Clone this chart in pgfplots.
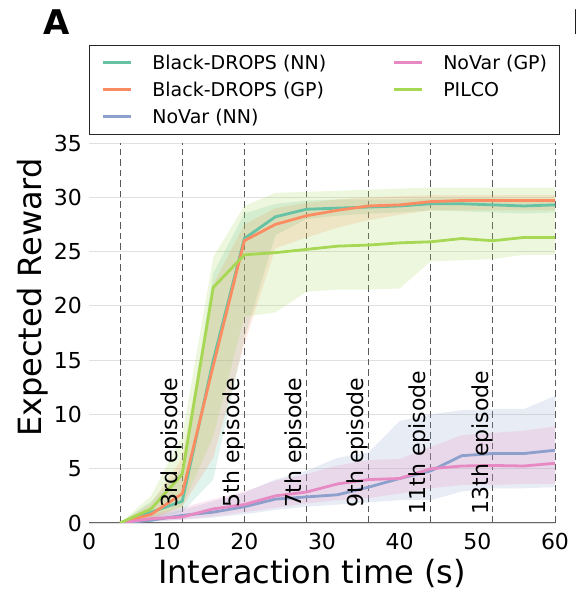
\documentclass[border=0pt]{standalone}
\usepackage{fontspec}
\setmainfont{DejaVu Sans}
\usepackage{pgfplots}
\usepackage{pgfplotstable}
\pgfplotsset{compat=1.18}
\usepgfplotslibrary{fillbetween}

\definecolor{cNN}{HTML}{66C2A5}
\definecolor{cGP}{HTML}{FC8D62}
\definecolor{cVN}{HTML}{8DA0CB}
\definecolor{cVG}{HTML}{E78AC3}
\definecolor{cPI}{HTML}{A6D854}

\pgfplotstableread{
x  nnm  nnl  nnh  gpm  gpl  gph  vnm  vnl  vnh  vgm  vgl  vgh  pim  pil  pih
4  0    0    0    0    0    0    0    0    0    0    0    0    0    0    0
8  1.0  0.3  2.0  0.8  0.3  1.8  0.25 0.1  0.6  0.4  0.2  0.8  1.3  0.5  2.5
12 2.0  1.0  5.0  2.7  1.5  6.0  0.7  0.3  1.2  0.55 0.3  1.4  4.5  1.5  8.0
16 15.0 4.0  23.0 14.5 6.0  22.0 1.0  0.5  2.0  1.3  0.6  2.2  21.7 8.0  24.5
20 26.2 17.0 28.5 26.0 16.5 27.5 1.5  0.8  2.8  1.7  1.0  2.9  24.7 19.0 29.2
24 28.2 26.5 29.4 27.5 25.3 29.0 2.2  1.2  4.0  2.5  1.4  3.9  24.9 19.4 30.4
28 28.9 28.0 29.7 28.3 26.3 29.5 2.4  1.5  4.8  2.85 1.8  4.5  25.2 21.3 30.5
32 29.0 28.3 29.8 28.8 27.2 29.8 2.6  1.7  6.0  3.6  2.1  5.3  25.5 21.5 30.6
36 29.1 28.5 29.8 29.2 27.9 30.0 3.3  1.9  6.5  4.0  2.3  5.8  25.6 21.5 30.7
40 29.2 28.6 29.8 29.3 28.4 30.1 4.1  2.1  9.4  4.1  2.7  5.9  25.8 21.6 30.8
44 29.4 28.8 29.9 29.6 28.8 30.2 4.8  2.1  10.0 5.0  3.2  7.0  25.9 24.1 30.9
48 29.4 28.7 29.9 29.7 28.8 30.2 6.2  2.9  10.4 5.25 3.5  8.1  26.2 24.2 30.9
52 29.3 28.6 29.9 29.7 28.8 30.2 6.4  3.2  10.5 5.3  3.5  8.3  26.0 24.3 30.9
56 29.2 28.5 29.8 29.7 28.8 30.2 6.4  3.2  10.5 5.25 3.6  8.5  26.3 24.7 30.9
60 29.3 28.6 29.8 29.7 28.8 30.2 6.7  3.3  11.7 5.5  3.6  8.9  26.3 24.7 30.9
}\data

\begin{document}
\begin{tikzpicture}
\begin{axis}[
  scale only axis, width=466pt, height=380pt,
  xmin=0, xmax=60, ymin=0, ymax=35,
  xtick={0,10,...,60}, ytick={0,5,...,35},
  /pgf/number format/assume math mode=true,
  ticklabel style={font=\fontsize{22}{26}\selectfont},
  xticklabel style={anchor=north, inner sep=0pt, yshift=-10pt},
  yticklabel style={anchor=east, inner sep=0pt, xshift=-7pt},
  axis x line*=bottom, axis y line*=left,
  y axis line style={draw=none},
  x axis line style={draw=black!60, line width=1pt},
  tick style={draw=none},
  ymajorgrids=true,
  major grid style={black!12, line width=0.8pt},
  extra x ticks={4,12,20,28,36,44,52,60},
  extra x tick labels={},
  extra x tick style={grid=major, major grid style={black!65, line width=0.8pt, dash pattern=on 6.5pt off 4pt}},
  xlabel={Interaction time (s)},
  ylabel={Expected Reward},
  label style={font=\fontsize{32}{36}\selectfont},
  xlabel style={at={(axis description cs:0.4785,-0.1579)}, anchor=base},
  ylabel style={at={(axis description cs:-0.1009,0.5934)}, anchor=base},
  legend columns=2,
  legend image code/.code={\draw[#1] (0pt,0pt) -- (28pt,0pt);},
  legend style={at={(axis description cs:0,1.2579)}, anchor=north west,
    draw=black!85, line width=0.8pt, inner xsep=12pt, inner ysep=9.5pt,
    font=\fontsize{19}{19}\selectfont,
    nodes={inner sep=0pt},
    row sep=11pt,
    /tikz/every odd column/.append style={column sep=20pt},
    /tikz/column 2/.style={column sep=66pt},
    cells={anchor=west}},
]
% bands
\addplot[draw=none, name path=nnh, forget plot] table[x=x,y=nnh]{\data};
\addplot[draw=none, name path=nnl, forget plot] table[x=x,y=nnl]{\data};
\addplot[cNN, fill opacity=0.2, draw=none, forget plot] fill between[of=nnh and nnl];
\addplot[draw=none, name path=gph, forget plot] table[x=x,y=gph]{\data};
\addplot[draw=none, name path=gpl, forget plot] table[x=x,y=gpl]{\data};
\addplot[cGP, fill opacity=0.2, draw=none, forget plot] fill between[of=gph and gpl];
\addplot[draw=none, name path=vnh, forget plot] table[x=x,y=vnh]{\data};
\addplot[draw=none, name path=vnl, forget plot] table[x=x,y=vnl]{\data};
\addplot[cVN, fill opacity=0.2, draw=none, forget plot] fill between[of=vnh and vnl];
\addplot[draw=none, name path=vgh, forget plot] table[x=x,y=vgh]{\data};
\addplot[draw=none, name path=vgl, forget plot] table[x=x,y=vgl]{\data};
\addplot[cVG, fill opacity=0.2, draw=none, forget plot] fill between[of=vgh and vgl];
\addplot[draw=none, name path=pih, forget plot] table[x=x,y=pih]{\data};
\addplot[draw=none, name path=pil, forget plot] table[x=x,y=pil]{\data};
\addplot[cPI, fill opacity=0.2, draw=none, forget plot] fill between[of=pih and pil];
% means
\addplot[cNN, line width=2.8pt, forget plot] table[x=x,y=nnm]{\data};
\addplot[cGP, line width=2.8pt, forget plot] table[x=x,y=gpm]{\data};
\addplot[cVN, line width=2.8pt, forget plot] table[x=x,y=vnm]{\data};
\addplot[cVG, line width=2.8pt, forget plot] table[x=x,y=vgm]{\data};
\addplot[cPI, line width=2.8pt, forget plot] table[x=x,y=pim]{\data};
% legend
\addlegendimage{cNN, line width=3pt}\addlegendentry{Black-DROPS (NN)}
\addlegendimage{cVG, line width=3pt}\addlegendentry{NoVar (GP)}
\addlegendimage{cGP, line width=3pt}\addlegendentry{Black-DROPS (GP)}
\addlegendimage{cPI, line width=3pt}\addlegendentry{PILCO}
\addlegendimage{cVN, line width=3pt}\addlegendentry{NoVar (NN)}
% episode labels
\begin{scope}[every node/.style={rotate=90, anchor=south, inner sep=0pt, font=\fontsize{22}{26}\selectfont}]
\node at (axis cs:12,7.4) {3rd episode};
\node at (axis cs:20,7.4) {5th episode};
\node at (axis cs:28,7.4) {7th episode};
\node at (axis cs:36,7.4) {9th episode};
\node at (axis cs:44,7.4) {11th episode};
\node at (axis cs:52,7.4) {13th episode};
\end{scope}
\end{axis}
\node[font=\fontsize{34}{34}\selectfont\bfseries] at (-32.3pt,500.5pt) {A};
\path[use as bounding box] (-89pt,-70pt) rectangle (486pt,523pt);
\node[font=\fontsize{34}{34}\selectfont\bfseries, anchor=west, inner sep=0pt] at (483pt,500.5pt) {B};
\end{tikzpicture}
\end{document}
